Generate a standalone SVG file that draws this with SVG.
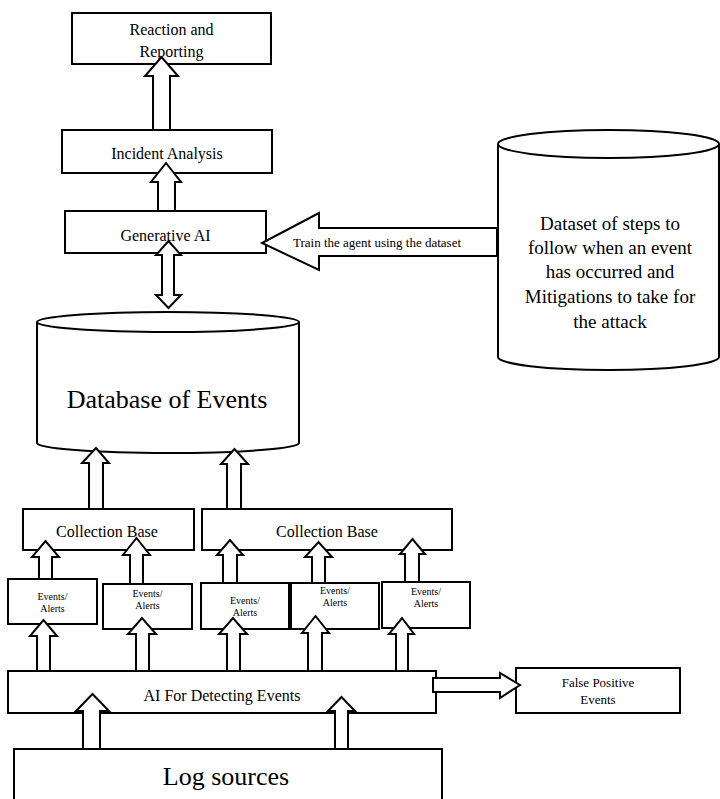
<svg xmlns="http://www.w3.org/2000/svg" width="720" height="799" viewBox="0 0 720 799">
<style>
.box{fill:#fff;stroke:#000;stroke-width:2}
.cyl{fill:#fff;stroke:#000;stroke-width:2}
.arr{fill:#fff;stroke:#000;stroke-width:2;stroke-linejoin:miter}
text{font-family:"Liberation Serif","Times New Roman",serif;fill:#000;text-anchor:middle}
.t16{font-size:16px}
.t10{font-size:10px}
.t13{font-size:13px}
.t26{font-size:26px}
.t19{font-size:19px}
</style>
<rect width="720" height="799" fill="#fff"/>
<g id="reaction"><rect class="box" x="72" y="13" width="199" height="51"/><text class="t16" x="171.5" y="35">Reaction and</text><text class="t16" x="171.5" y="57">Reporting</text></g>
<g id="incident"><rect class="box" x="62" y="130" width="210" height="43"/><text class="t16" x="167" y="159">Incident Analysis</text></g>
<g id="genai"><rect class="box" x="65" y="211" width="201" height="42"/><text class="t16" x="165.5" y="241">Generative AI</text></g>
<g id="dataset"><path class="cyl" d="M498,144 A110.5,14 0 0 1 719,144 L719,357 A110.5,13 0 0 1 498,357 Z"/><path class="cyl" d="M498,144 A110.5,14 0 0 0 719,144" fill="none"/>
<text class="t19" x="610" y="230">Dataset of steps to</text><text class="t19" x="610" y="254">follow when an event</text><text class="t19" x="610" y="278">has occurred and</text><text class="t19" x="610" y="303">Mitigations to take for</text><text class="t19" x="610" y="328">the attack</text></g>
<g id="database"><path class="cyl" d="M37,322 A131,10 0 0 1 299,322 L299,443 A131,10 0 0 1 37,443 Z"/><path class="cyl" d="M37,322 A131,10 0 0 0 299,322" fill="none"/><text class="t26" x="167" y="408">Database of Events</text></g>
<g id="cb1"><rect class="box" x="23" y="509" width="171" height="41"/><text class="t16" x="107" y="537">Collection Base</text></g>
<g id="cb2"><rect class="box" x="202" y="509" width="250" height="41"/><text class="t16" x="327" y="537">Collection Base</text></g>
<g id="ea1"><rect class="box" x="8" y="579" width="89" height="45"/><text class="t10" x="52.5" y="600">Events/</text><text class="t10" x="52.5" y="612">Alerts</text></g>
<g id="ea2"><rect class="box" x="103" y="584" width="89" height="45"/><text class="t10" x="147.5" y="597">Events/</text><text class="t10" x="147.5" y="609">Alerts</text></g>
<g id="ea3"><rect class="box" x="201" y="583" width="88" height="46"/><text class="t10" x="245" y="604">Events/</text><text class="t10" x="245" y="616">Alerts</text></g>
<g id="ea4"><rect class="box" x="291" y="583" width="88" height="46"/><text class="t10" x="335" y="594">Events/</text><text class="t10" x="335" y="606">Alerts</text></g>
<g id="ea5"><rect class="box" x="382" y="582" width="88" height="46"/><text class="t10" x="426" y="595">Events/</text><text class="t10" x="426" y="607">Alerts</text></g>
<g id="aidetect"><rect class="box" x="8" y="671" width="428" height="42"/><text class="t16" x="222" y="701">AI For Detecting Events</text></g>
<g id="falsepos"><rect class="box" x="516" y="668" width="164" height="45"/><text class="t13" x="598" y="687">False Positive</text><text class="t13" x="598" y="704">Events</text></g>
<g id="logs"><rect class="box" x="14" y="749" width="428" height="60"/><text class="t26" x="226" y="785">Log sources</text></g>
<g id="connectors">
<polygon class="arr" points="153,130 153,76 145,76 161.5,57 178,76 170,76 170,130"/>
<polygon class="arr" points="158,211 158,182 151,182 166,163 181,182 175,182 175,211"/>
<polygon class="arr" points="162,255 156,255 168.5,241 181,255 174,255 174,295 181,295 168.5,308 156,295 162,295"/>
<polygon class="arr" points="89,509 89,463 82,463 96,448 109,463 103,463 103,509"/>
<polygon class="arr" points="227,509 227,464 221,464 234.5,449 248,464 241,464 241,509"/>
<polygon class="arr" points="39,579 39,557 32,557 45.5,541 59,557 52,557 52,579"/>
<polygon class="arr" points="130,584 130,555 123,555 136.5,538 150,555 143,555 143,584"/>
<polygon class="arr" points="223,583 223,555 217,555 230,540 243,555 237,555 237,583"/>
<polygon class="arr" points="312,583 312,557 305,557 318.5,542 332,557 325,557 325,583"/>
<polygon class="arr" points="405,582 405,554 400,554 412.5,539 425,554 419,554 419,582"/>
<polygon class="arr" points="37,671 37,636 30,636 43.5,620 57,636 50,636 50,671"/>
<polygon class="arr" points="136,671 136,634 128,634 142,618 156,634 149,634 149,671"/>
<polygon class="arr" points="227,671 227,634 219,634 233,618 247,634 240,634 240,671"/>
<polygon class="arr" points="308,671 308,633 302,633 315.5,616 329,633 322,633 322,671"/>
<polygon class="arr" points="396,671 396,634 389,634 402,618 414,634 408,634 408,671"/>
<polygon class="arr" points="83,749 83,711 76,711 92.5,694 109,711 100,711 100,749"/>
<polygon class="arr" points="335,749 335,711 328,711 341.5,697 355,711 348,711 348,749"/>
<polygon class="arr" points="433,678 500,678 500,673 520,685 500,698 500,692 433,692"/>
<polygon class="arr" points="497,228 319,228 319,213 262,243 319,270 319,256 497,256"/>
<text class="t13" x="377" y="247">Train the agent using the dataset</text>
</g>
</svg>
